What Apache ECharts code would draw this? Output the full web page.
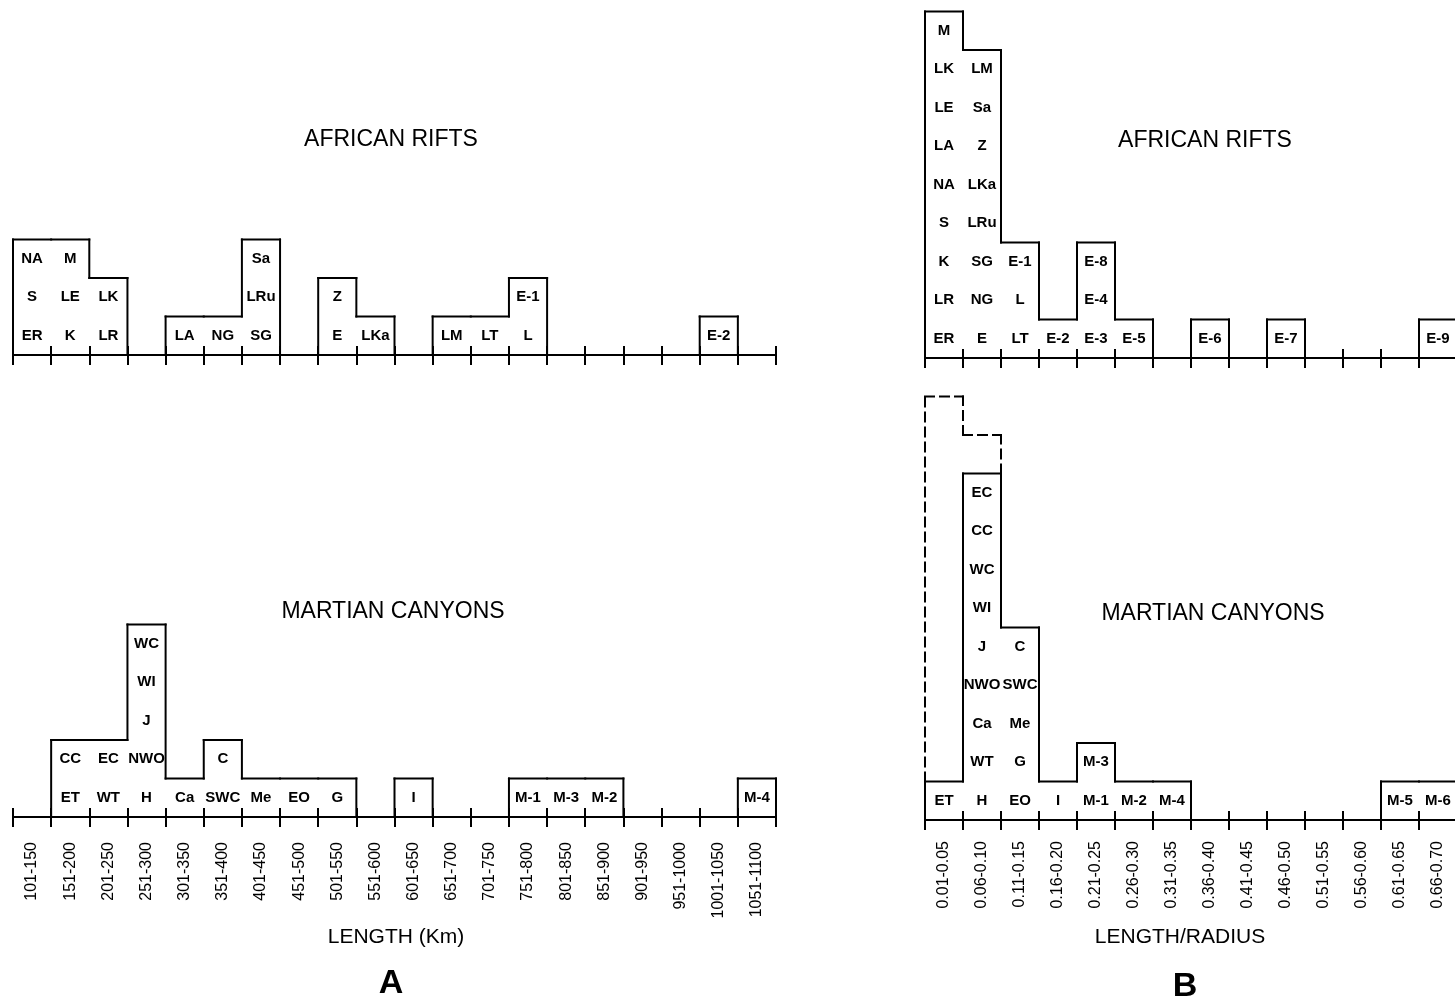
<!DOCTYPE html>
<html>
<head>
<meta charset="utf-8">
<title>African rifts and Martian canyons</title>
<script src="https://cdn.jsdelivr.net/npm/echarts@6/dist/echarts.min.js"></script>
<style>
  html, body { margin: 0; padding: 0; background: #fff; overflow: hidden; }
  #chart { width: 1470px; height: 1001px; }
</style>
</head>
<body>
<div id="chart"></div>
<script>
// Bin labels
const lengthBins = ['101-150', '151-200', '201-250', '251-300', '301-350', '351-400', '401-450',
  '451-500', '501-550', '551-600', '601-650', '651-700', '701-750', '751-800', '801-850',
  '851-900', '901-950', '951-1000', '1001-1050', '1051-1100'];
const ratioBins = ['0.01-0.05', '0.06-0.10', '0.11-0.15', '0.16-0.20', '0.21-0.25', '0.26-0.30',
  '0.31-0.35', '0.36-0.40', '0.41-0.45', '0.46-0.50', '0.51-0.55', '0.56-0.60', '0.61-0.65', '0.66-0.70'];

// Features falling in each bin, listed bottom to top
const riftsByLength = [['ER', 'S', 'NA'], ['K', 'LE', 'M'], ['LR', 'LK'], [], ['LA'], ['NG'],
  ['SG', 'LRu', 'Sa'], [], ['E', 'Z'], ['LKa'], [], ['LM'], ['LT'], ['L', 'E-1'], [], [], [], [],
  ['E-2'], []];
const canyonsByLength = [[], ['ET', 'CC'], ['WT', 'EC'], ['H', 'NWO', 'J', 'WI', 'WC'], ['Ca'],
  ['SWC', 'C'], ['Me'], ['EO'], ['G'], [], ['I'], [], [], ['M-1'], ['M-3'], ['M-2'], [], [], [],
  ['M-4']];
const riftsByRatio = [['ER', 'LR', 'K', 'S', 'NA', 'LA', 'LE', 'LK', 'M'],
  ['E', 'NG', 'SG', 'LRu', 'LKa', 'Z', 'Sa', 'LM'], ['LT', 'L', 'E-1'], ['E-2'],
  ['E-3', 'E-4', 'E-8'], ['E-5'], [], ['E-6'], [], ['E-7'], [], [], [], ['E-9']];
const canyonsByRatio = [['ET'], ['H', 'WT', 'Ca', 'NWO', 'J', 'WI', 'WC', 'CC', 'EC'],
  ['EO', 'G', 'Me', 'SWC', 'C'], ['I'], ['M-1', 'M-3'], ['M-2'], ['M-4'], [], [], [], [], [],
  ['M-5'], ['M-6']];
// Alternative (dashed) totals for the Martian length/radius histogram
const canyonsByRatioDashed = [11, 10, 0, 0, 0, 0, 0, 0, 0, 0, 0, 0, 0, 0];

const INK = '#000';
const SANS = '"Liberation Sans", Arial, Helvetica, sans-serif';

const counts = cells => cells.map(c => c.length);

// Rows for the step outline: [bin, height, previous height, floor, previous floor, isLast]
function outlineRows(h, floor) {
  const f = floor || h.map(() => 0);
  return h.map((v, i) => [i, v, i ? h[i - 1] : 0, f[i], i ? f[i - 1] : 0, i === h.length - 1 ? 1 : 0]);
}

function outlineRenderer(dash) {
  return function (params, api) {
    const i = api.value(0), h = api.value(1), hPrev = api.value(2);
    const f = api.value(3), fPrev = api.value(4), last = api.value(5);
    const half = api.size([1, 0])[0] / 2;
    const cx = api.coord([i, 0])[0];
    const yOf = v => api.coord([i, v])[1];
    const segs = [];
    if (h > f) segs.push([cx - half, yOf(h), cx + half, yOf(h)]);
    const lo = Math.max(Math.min(hPrev, h), Math.max(fPrev, f));
    const hi = Math.max(hPrev, h);
    if (hi > lo) segs.push([cx - half, yOf(lo), cx - half, yOf(hi)]);
    if (last && h > f) segs.push([cx + half, yOf(f), cx + half, yOf(h)]);
    return {
      type: 'group',
      children: segs.map(s => ({
        type: 'line',
        shape: { x1: s[0], y1: s[1], x2: s[2], y2: s[3] },
        style: { stroke: INK, lineWidth: 2, lineDash: dash || null, lineCap: 'square' }
      }))
    };
  };
}

function cellSeries(cells, idx) {
  const names = [];
  const data = [];
  cells.forEach((list, i) => list.forEach((n, k) => { names.push(n); data.push([i, k + 0.5]); }));
  return {
    type: 'custom', xAxisIndex: idx * 2, yAxisIndex: idx, silent: true,
    encode: { x: 0, y: 1 },
    data: data,
    renderItem: function (params, api) {
      const p = api.coord([api.value(0), api.value(1)]);
      return {
        type: 'text', x: p[0], y: p[1],
        style: {
          text: names[params.dataIndex], fill: INK,
          font: 'bold 15px ' + SANS, align: 'center', verticalAlign: 'middle'
        }
      };
    }
  };
}

function outlineSeries(rows, idx, dash) {
  return {
    type: 'custom', xAxisIndex: idx * 2, yAxisIndex: idx, silent: true,
    encode: { x: 0, y: 1 },
    data: rows,
    renderItem: outlineRenderer(dash)
  };
}

// Panel geometry: one cell is 38.5 px tall
const CELL = 38.5;
const grids = [
  { left: 13, width: 763, top: 355 - 9 * CELL, height: 9 * CELL },     // A, rifts
  { left: 13, width: 763, top: 817 - 11 * CELL, height: 11 * CELL },   // A, canyons
  { left: 925, width: 532, top: 358 - 9 * CELL, height: 9 * CELL },    // B, rifts
  { left: 925, width: 532, top: 820 - 11 * CELL, height: 11 * CELL }   // B, canyons
];
const yMax = [9, 11, 9, 11];
const binsOf = [lengthBins, lengthBins, ratioBins, ratioBins];
const showLabels = [false, true, false, true];
const labelMargin = [0, 25, 0, 21];

const xAxes = [];
grids.forEach((g, k) => {
  xAxes.push({
    gridIndex: k, type: 'category', data: binsOf[k], boundaryGap: true, position: 'bottom',
    axisLine: { show: true, lineStyle: { color: INK, width: 2 } },
    axisTick: { show: true, interval: 0, length: 10, lineStyle: { color: INK, width: 2 } },
    axisLabel: {
      show: showLabels[k], interval: 0, rotate: 90, margin: labelMargin[k],
      fontSize: 16, color: INK, fontFamily: SANS
    },
    splitLine: { show: false }
  });
  xAxes.push({
    gridIndex: k, type: 'category', data: binsOf[k], boundaryGap: true, position: 'bottom',
    axisLine: { show: false },
    axisTick: { show: true, inside: true, interval: 0, length: 9, lineStyle: { color: INK, width: 2 } },
    axisLabel: { show: false },
    splitLine: { show: false }
  });
});
const yAxes = grids.map((g, k) => ({
  gridIndex: k, type: 'value', min: 0, max: yMax[k], show: false
}));

const series = [
  outlineSeries(outlineRows(counts(riftsByLength)), 0),
  cellSeries(riftsByLength, 0),
  outlineSeries(outlineRows(counts(canyonsByLength)), 1),
  cellSeries(canyonsByLength, 1),
  outlineSeries(outlineRows(counts(riftsByRatio)), 2),
  cellSeries(riftsByRatio, 2),
  outlineSeries(outlineRows(canyonsByRatioDashed, counts(canyonsByRatio)), 3, [9, 6]),
  outlineSeries(outlineRows(counts(canyonsByRatio)), 3),
  cellSeries(canyonsByRatio, 3)
];

function label(text, x, y, font) {
  return {
    type: 'text', x: x, y: y, silent: true,
    style: { text: text, fill: INK, font: font, align: 'center', verticalAlign: 'middle' }
  };
}

const chart = echarts.init(document.getElementById('chart'), null, { renderer: 'canvas' });
chart.setOption({
  animation: false,
  backgroundColor: '#fff',
  grid: grids.map(g => Object.assign({ containLabel: false }, g)),
  xAxis: xAxes,
  yAxis: yAxes,
  series: series,
  graphic: [
    label('AFRICAN RIFTS', 391, 140, '23px ' + SANS),
    label('MARTIAN CANYONS', 393, 612, '23px ' + SANS),
    label('AFRICAN RIFTS', 1205, 141, '23px ' + SANS),
    label('MARTIAN CANYONS', 1213, 614, '23px ' + SANS),
    label('LENGTH (Km)', 396, 937, '21px ' + SANS),
    label('LENGTH/RADIUS', 1180, 937, '21px ' + SANS),
    label('A', 391, 984, 'bold 34px ' + SANS),
    label('B', 1185, 987, 'bold 34px ' + SANS)
  ]
});
</script>
</body>
</html>
